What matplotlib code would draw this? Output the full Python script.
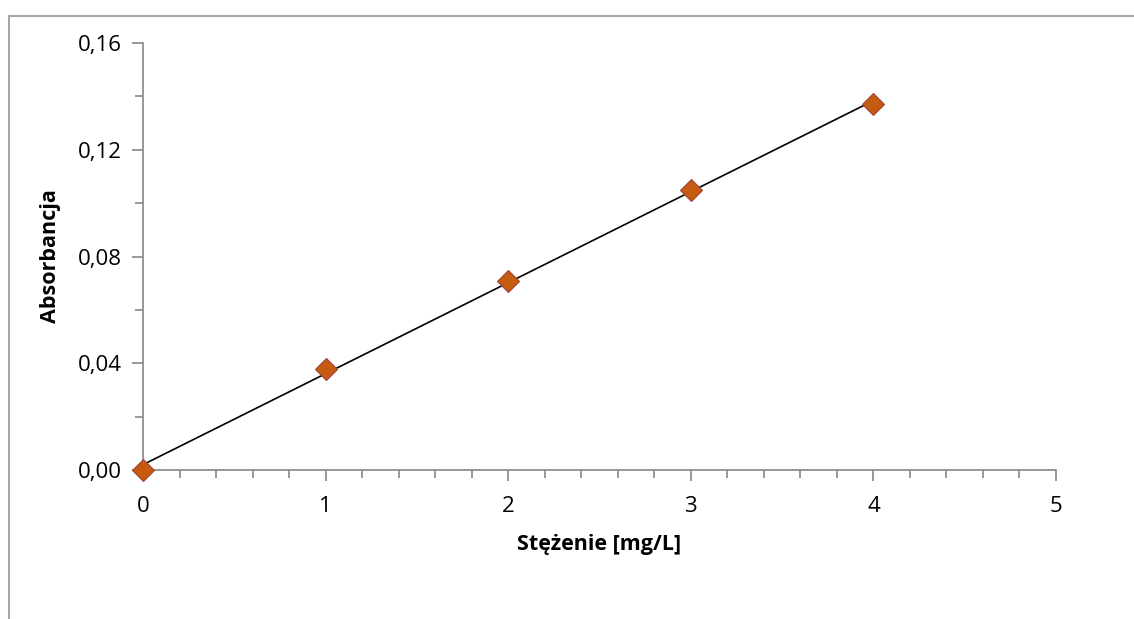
import numpy as np
import matplotlib.pyplot as plt
from matplotlib.ticker import MultipleLocator, FuncFormatter
from matplotlib.patches import Rectangle

# dane
stezenie = [0, 1, 2, 3, 4]
absorbancja = [0.000, 0.038, 0.071, 0.105, 0.137]

plt.rcParams['font.family'] = ['Open Sans', 'DejaVu Sans']

fig = plt.figure(figsize=(11.34, 6.19), dpi=100)
ax = fig.add_axes([0.1261, 0.2407, 0.8051, 0.6898])

# ramka wykresu (przycięta z prawej i od dołu)
fig.patches.append(Rectangle((9 / 1134, -0.1), 1.2, 1 - 16 / 619 + 0.1,
                             transform=fig.transFigure, fill=False,
                             edgecolor='#a6a6a6', linewidth=1.5, zorder=0))

# linia trendu
a, b = np.polyfit(stezenie, absorbancja, 1)
xt = np.array([min(stezenie), max(stezenie)])
ax.plot(xt, a * xt + b, color='black', linewidth=1.2, zorder=2)

ax.plot(stezenie, absorbancja, linestyle='none', marker='D', markersize=11,
        markerfacecolor='#c55a11', markeredgecolor='#a0443a',
        markeredgewidth=0.8, zorder=3, clip_on=False)

ax.set_xlim(0, 5)
ax.set_ylim(0, 0.16)
ax.xaxis.set_major_locator(MultipleLocator(1))
ax.xaxis.set_minor_locator(MultipleLocator(0.2))
ax.yaxis.set_major_locator(MultipleLocator(0.04))
ax.yaxis.set_minor_locator(MultipleLocator(0.02))
ax.yaxis.set_major_formatter(FuncFormatter(lambda v, p: ('%.2f' % v).replace('.', ',')))

for s in ['top', 'right']:
    ax.spines[s].set_visible(False)
for s in ['left', 'bottom']:
    ax.spines[s].set_color('#868686')
    ax.spines[s].set_linewidth(1.2)

ax.tick_params(which='major', direction='out', length=8, width=1.2,
               color='#868686', labelsize=16)
ax.tick_params(axis='x', which='major', pad=11)
ax.tick_params(axis='y', which='major', pad=7)
ax.tick_params(which='minor', direction='out', length=6, width=1.2,
               color='#868686')

ax.set_xlabel('Stężenie [mg/L]', fontsize=15.5, fontweight='bold', labelpad=12)
ax.set_ylabel('Absorbancja', fontsize=15.5, fontweight='bold', labelpad=12)

fig.savefig('out.png', dpi=100)
